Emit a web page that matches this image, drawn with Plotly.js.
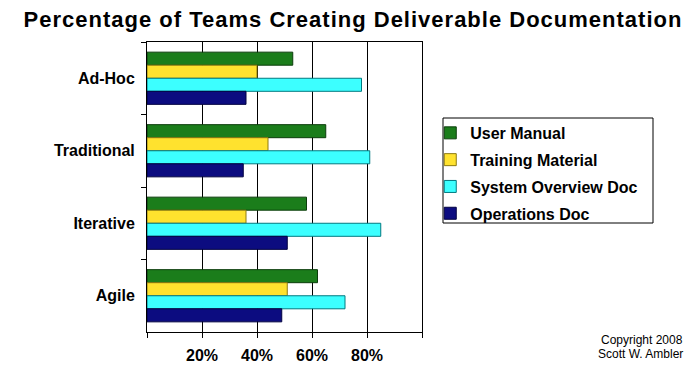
<!DOCTYPE html>
<html>
<head>
<meta charset="utf-8">
<script src="https://cdn.plot.ly/plotly-3.0.1.min.js"></script>
<style>html,body{margin:0;padding:0;background:#fff}#chart{width:687px;height:370px}
.gtitle{letter-spacing:1px}</style>
</head>
<body>
<div id="chart"></div>
<script>
const categories = ["Ad-Hoc", "Traditional", "Iterative", "Agile"];
const seriesNames = ["User Manual", "Training Material", "System Overview Doc", "Operations Doc"];
const userManual = [53, 65, 58, 62];
const trainingMaterial = [40, 44, 36, 51];
const systemOverviewDoc = [78, 81, 85, 72];
const operationsDoc = [36, 35, 51, 49];
const xTickVals = [0, 20, 40, 60, 80, 100];
const xTickText = ["", "20%", "40%", "60%", "80%", ""];

const fills = ["#1b7d1b", "#ffe22e", "#3cffff", "#0c0c80"];
const edges = ["#0b3d0b", "#8c7a10", "#007a80", "#000040"];
const values = [userManual, trainingMaterial, systemOverviewDoc, operationsDoc];
const FONT = "Liberation Sans, Arial, sans-serif";

const traces = values.map((v, i) => ({
  type: "bar",
  orientation: "h",
  name: "<b>" + seriesNames[i] + "</b>",
  x: v,
  y: categories,
  legendgroup: "g" + i,
  marker: {color: fills[i], line: {color: edges[i], width: 1}},
  hoverinfo: "x+y"
}));

const layout = {
  width: 687, height: 370,
  margin: {l: 147, r: 265, t: 42, b: 38},
  paper_bgcolor: "#fff", plot_bgcolor: "#fff",
  font: {family: FONT, color: "#000"},
  title: {text: "<b>Percentage of Teams Creating Deliverable Documentation</b>",
          font: {size: 22, family: FONT, color: "#000"},
          x: 353 / 687, xanchor: "center", y: 1 - 19 / 370, yanchor: "middle"},
  barmode: "group", bargap: 0.28, bargroupgap: 0,
  xaxis: {range: [0, 100], tickvals: xTickVals, ticktext: xTickText,
          showgrid: true, gridcolor: "#000", gridwidth: 1,
          showline: true, linecolor: "#000", linewidth: 1, mirror: true,
          ticks: "outside", ticklen: 5, tickcolor: "#000",
          ticklabelstandoff: 4,
          tickfont: {size: 16, family: FONT, color: "#000", weight: "bold"},
          zeroline: false, fixedrange: true},
  yaxis: {type: "category", autorange: "reversed", categoryorder: "array", categoryarray: categories,
          showgrid: false, showline: true, linecolor: "#000", linewidth: 1, mirror: true,
          ticks: "outside", ticklen: 5, tickcolor: "#000", tickson: "boundaries",
          tickfont: {size: 16, family: FONT, color: "#000", weight: "bold"},
          ticklabelstandoff: 8, fixedrange: true},
  showlegend: true,
  legend: {x: 1.03, xanchor: "left", y: 0.745, yanchor: "top",
           traceorder: "grouped", tracegroupgap: 3,
           bgcolor: "rgba(0,0,0,0)", borderwidth: 0,
           font: {size: 16, family: FONT, color: "#000"}},
  shapes: [{type: "rect", xref: "paper", yref: "paper",
            x0: (443 - 147) / 275, x1: (653 - 147) / 275,
            y0: (332 - 223) / 290, y1: (332 - 118) / 290,
            line: {color: "#000", width: 1}, fillcolor: "rgba(0,0,0,0)", layer: "below"}],
  annotations: [
    {text: "Copyright 2008", xref: "paper", yref: "paper",
     x: (685 - 147) / 275, xanchor: "right", y: (332 - 340) / 290, yanchor: "middle",
     align: "right", showarrow: false, font: {size: 12, family: FONT, color: "#000"}},
    {text: "Scott W. Ambler", xref: "paper", yref: "paper",
     x: (685 - 147) / 275, xanchor: "right", y: (332 - 354) / 290, yanchor: "middle",
     align: "right", showarrow: false, font: {size: 12, family: FONT, color: "#000"}}
  ]
};

Plotly.newPlot("chart", traces, layout, {displayModeBar: false, staticPlot: true});
</script>
</body>
</html>
